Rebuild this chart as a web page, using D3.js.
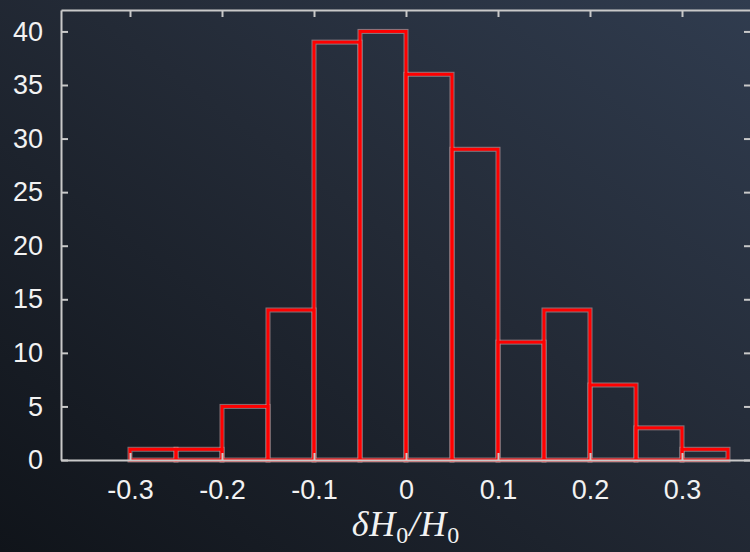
<!DOCTYPE html>
<html>
<head>
<meta charset="utf-8">
<script src="https://cdn.jsdelivr.net/npm/d3@7"></script>
<style>
  html, body { margin: 0; padding: 0; background: #151a21; }
  svg { display: block; }
</style>
</head>
<body>
<div id="chart"></div>
<script>
// histogram of dH0/H0, bins of width 0.05
var binStarts = [-0.3, -0.25, -0.2, -0.15, -0.1, -0.05, 0, 0.05, 0.1, 0.15, 0.2, 0.25, 0.3];
var counts = [1, 1, 5, 14, 39, 40, 36, 29, 11, 14, 7, 3, 1];
var binWidth = 0.05;
var xTicks = [-0.3, -0.2, -0.1, 0, 0.1, 0.2, 0.3];
var yTicks = [0, 5, 10, 15, 20, 25, 30, 35, 40];

var width = 750, height = 552;
var margin = { top: 10, right: -1, bottom: 92, left: 61 };

var svg = d3.select('#chart')
  .append('svg')
  .attr('width', width)
  .attr('height', height);

// background gradient
var defs = svg.append('defs');
var grad = defs.append('linearGradient')
  .attr('id', 'bg')
  .attr('x1', '100%').attr('y1', '0%')
  .attr('x2', '0%').attr('y2', '100%');
grad.append('stop').attr('offset', '0%').attr('stop-color', '#303c4f');
grad.append('stop').attr('offset', '45%').attr('stop-color', '#232a36');
grad.append('stop').attr('offset', '100%').attr('stop-color', '#10141a');

svg.append('rect')
  .attr('width', width)
  .attr('height', height)
  .attr('fill', 'url(#bg)');

var x = d3.scaleLinear()
  .domain([-0.375, 0.375])
  .range([margin.left, width - margin.right]);

var y = d3.scaleLinear()
  .domain([0, 42])
  .range([height - margin.bottom, margin.top]);

var frameColour = '#c9c9c9';
var fmtX = function(d) { return d === 0 ? '0' : d3.format('.1f')(d).replace('\u2212', '-'); };
var fmtY = d3.format('d');

// bars: light halo underneath, red outline on top
var bars = svg.append('g');
bars.selectAll('rect.halo')
  .data(counts)
  .enter().append('rect')
  .attr('class', 'halo')
  .attr('x', function(d, i) { return x(binStarts[i]); })
  .attr('y', function(d) { return y(d); })
  .attr('width', function(d, i) { return x(binStarts[i] + binWidth) - x(binStarts[i]); })
  .attr('height', function(d) { return y(0) - y(d); })
  .attr('fill', 'none')
  .attr('stroke', '#ffd0d0')
  .attr('stroke-opacity', 0.45)
  .attr('stroke-width', 5);

bars.selectAll('rect.bar')
  .data(counts)
  .enter().append('rect')
  .attr('class', 'bar')
  .attr('x', function(d, i) { return x(binStarts[i]); })
  .attr('y', function(d) { return y(d); })
  .attr('width', function(d, i) { return x(binStarts[i] + binWidth) - x(binStarts[i]); })
  .attr('height', function(d) { return y(0) - y(d); })
  .attr('fill', 'none')
  .attr('stroke', '#ff0000')
  .attr('stroke-width', 3);

// frame with inward ticks
var axisStyle = function(g) {
  g.select('.domain').attr('stroke', frameColour).attr('stroke-width', 2);
  g.selectAll('.tick line').attr('stroke', frameColour).attr('stroke-width', 2);
  g.selectAll('.tick text')
    .attr('fill', '#f2f2f2')
    .attr('font-family', 'Liberation Sans, Arial, sans-serif')
    .attr('font-size', '27px');
};

svg.append('g')
  .attr('transform', 'translate(0,' + y(0) + ')')
  .call(d3.axisBottom(x).tickValues(xTicks).tickFormat(fmtX).tickSizeInner(-7).tickSizeOuter(0).tickPadding(20))
  .call(axisStyle);

svg.append('g')
  .attr('transform', 'translate(0,' + y(42) + ')')
  .call(d3.axisTop(x).tickValues(xTicks).tickFormat('').tickSizeInner(-7).tickSizeOuter(0))
  .call(axisStyle);

svg.append('g')
  .attr('transform', 'translate(' + x(-0.375) + ',0)')
  .call(d3.axisLeft(y).tickValues(yTicks).tickFormat(fmtY).tickSizeInner(-7).tickSizeOuter(0).tickPadding(18))
  .call(axisStyle);

svg.append('g')
  .attr('transform', 'translate(' + x(0.375) + ',0)')
  .call(d3.axisRight(y).tickValues(yTicks).tickFormat('').tickSizeInner(-7).tickSizeOuter(0))
  .call(axisStyle);

// x axis title
var title = svg.append('text')
  .attr('x', x(0))
  .attr('y', 536)
  .attr('text-anchor', 'middle')
  .attr('fill', '#f2f2f2')
  .attr('font-family', 'Liberation Serif, Times New Roman, serif')
  .attr('font-size', '36px')
  .attr('letter-spacing', '1px');
title.append('tspan').attr('font-style', 'italic').text('δH');
title.append('tspan').attr('font-size', '24px').attr('dy', 7).text('0');
title.append('tspan').attr('font-style', 'italic').attr('dy', -7).text('/H');
title.append('tspan').attr('font-size', '24px').attr('dy', 7).text('0');
</script>
</body>
</html>
